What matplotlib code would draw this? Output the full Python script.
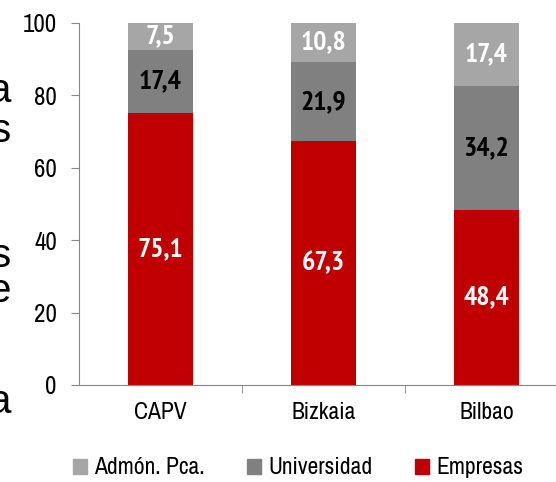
import matplotlib
matplotlib.use("Agg")
import matplotlib.pyplot as plt
from matplotlib.patches import Patch
import numpy as np

plt.rcParams['font.family'] = ['Archivo Narrow', 'Liberation Sans', 'DejaVu Sans']

categorias = ["CAPV", "Bizkaia", "Bilbao"]
empresas = [75.1, 67.3, 48.4]
universidad = [17.4, 21.9, 34.2]
admon = [7.5, 10.8, 17.4]
etiquetas = ["75,1", "67,3", "48,4"], ["17,4", "21,9", "34,2"], ["7,5", "10,8", "17,4"]

rojo = "#C00000"
gris_osc = "#808080"
gris_cla = "#A6A6A6"
eje = "#868686"

fig = plt.figure(figsize=(5.56, 4.82), dpi=100)
# el eje se sale por la derecha, como en el original
ax = fig.add_axes([79 / 556, 1 - 385 / 482, 489 / 556, 362 / 482])

x = np.arange(len(categorias))
b1 = ax.bar(x, empresas, width=0.4, color=rojo)
b2 = ax.bar(x, universidad, width=0.4, bottom=empresas, color=gris_osc)
base3 = np.array(empresas) + np.array(universidad)
b3 = ax.bar(x, admon, width=0.4, bottom=base3, color=gris_cla)

for barras, txt, col in zip([b1, b2, b3], etiquetas, ["white", "black", "white"]):
    for b, t in zip(barras, txt):
        ax.text(b.get_x() + b.get_width() / 2, b.get_y() + b.get_height() / 2, t,
                ha="center", va="center", color=col, fontsize=20, fontweight="bold",
                family=["PT Sans Narrow", "Liberation Sans"])

ax.set_ylim(0, 100)
ax.set_xlim(-0.5, 2.5)
ax.set_yticks([0, 20, 40, 60, 80, 100])
ax.set_xticks(x)
ax.set_xticklabels(categorias)
ax.set_xticks([0.5, 1.5], minor=True)
ax.tick_params(axis="x", which="major", length=0, pad=12, labelsize=17)
ax.tick_params(axis="x", which="minor", length=6, color=eje)
ax.tick_params(axis="y", length=6, color=eje, labelsize=18, pad=10)
for s in ["top", "right"]:
    ax.spines[s].set_visible(False)
ax.spines["left"].set_color(eje)
ax.spines["bottom"].set_color(eje)

# letras cortadas del texto vecino (línea base en píxeles)
for ybase, letra in [(102, "a"), (142, "s"), (267, "s"), (302, "e"), (413, "a")]:
    fig.text(11 / 556, 1 - ybase / 482, letra, ha="right", va="baseline", fontsize=29,
             family=["Liberation Sans", "DejaVu Sans"])

handles = [Patch(color=gris_cla, label="Admón. Pca."),
           Patch(color=gris_osc, label="Universidad"),
           Patch(color=rojo, label="Empresas")]
fig.legend(handles=handles, loc="center", bbox_to_anchor=(298 / 556, 1 - 468 / 482), ncol=3,
           frameon=False, fontsize=17, handlelength=0.6, handleheight=0.6,
           handletextpad=0.3, columnspacing=1.8)

fig.savefig("out.png", dpi=100)
